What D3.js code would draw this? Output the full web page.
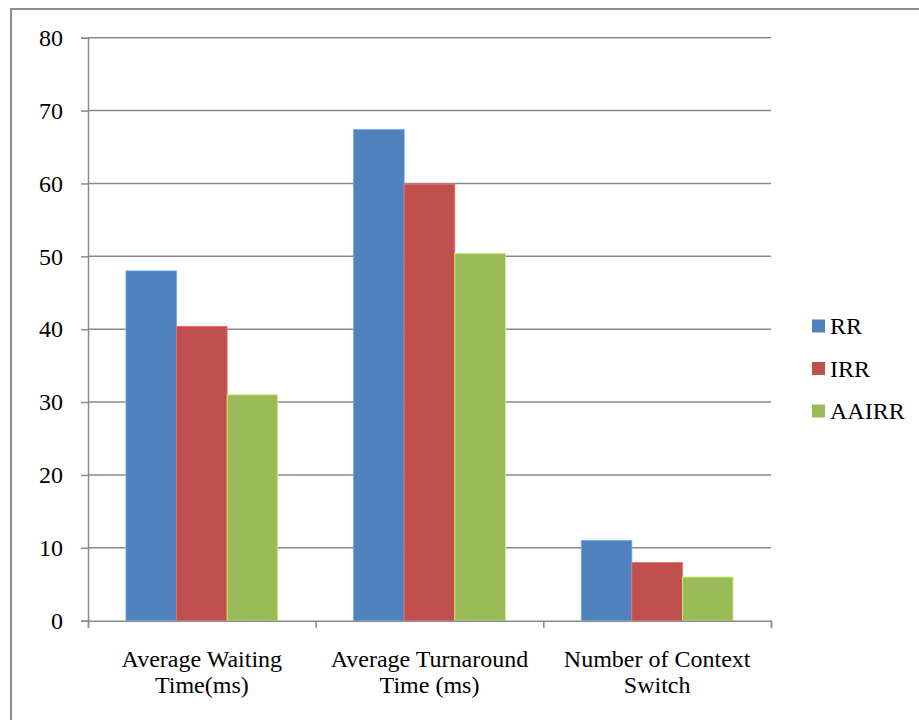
<!DOCTYPE html>
<html><head><meta charset="utf-8">
<script src="https://cdn.jsdelivr.net/npm/d3@7"></script>
<style>body{margin:0;background:#fff;} svg{display:block;} svg text{font-family:"Liberation Serif" !important;}</style>
</head><body>
<svg id="c" width="919" height="720" font-family="Liberation Serif"></svg>
<script>
const categories = [["Average Waiting","Time(ms)"],["Average Turnaround","Time (ms)"],["Number of Context","Switch"]];
const seriesNames = ["RR","IRR","AAIRR"];
const rrValues = [48, 67.4, 11];
const irrValues = [40.4, 59.9, 8];
const aairrValues = [31, 50.4, 6];
const yTicks = [0,10,20,30,40,50,60,70,80];
const colors = ["#4F81BD","#C0504D","#9BBB59"];
const series = [rrValues, irrValues, aairrValues];

const svg = d3.select("#c");
const font = "Liberation Serif";
const fs = 24;
const L = 88, R = 771, T = 37.7, B = 620.7;

// outer border
svg.append("rect").attr("x",11).attr("y",9).attr("width",940).attr("height",760)
  .attr("fill","none").attr("stroke","#8c8c8c").attr("stroke-width",2);

const y = d3.scaleLinear().domain([0,80]).range([B,T]);
const x0 = d3.scaleBand().domain(d3.range(categories.length)).range([L,R]).paddingInner(0).paddingOuter(0);
// gap width 150%
const x1 = d3.scaleBand().domain(d3.range(seriesNames.length)).range([0,x0.bandwidth()]).paddingInner(0).paddingOuter(0.75);

// gridlines
svg.append("g").selectAll("line").data(yTicks.filter(d=>d>0)).join("line")
  .attr("x1",L).attr("x2",R).attr("y1",d=>y(d)).attr("y2",d=>y(d))
  .attr("stroke","#8a8a8a").attr("stroke-width",1.5);

// y axis
const yAxis = d3.axisLeft(y).tickValues(yTicks).tickSize(7).tickPadding(18).tickFormat(d3.format("d"));
const gy = svg.append("g").attr("transform",`translate(${L},0)`).call(yAxis);
gy.attr("font-family",font).attr("font-size",fs);
gy.select(".domain").attr("stroke","#8a8a8a").attr("stroke-width",1.5);
gy.selectAll(".tick line").attr("stroke","#8a8a8a").attr("stroke-width",1.5);
gy.selectAll(".tick text").attr("font-family",font).attr("font-size",fs).attr("fill","#000");

// bars
const g = svg.append("g");
categories.forEach((c,i)=>{
  series.forEach((s,j)=>{
    g.append("rect")
      .attr("x", x0(i)+x1(j)).attr("width", x1.bandwidth())
      .attr("y", y(s[i])).attr("height", B - y(s[i]))
      .attr("fill", colors[j])
      .attr("stroke", d3.color(colors[j]).brighter(0.8)).attr("stroke-width",0.8);
  });
});

// x axis
const xAxis = d3.axisBottom(d3.scaleLinear().domain([0,3]).range([L,R])).tickValues([0,1,2,3]).tickSize(7).tickFormat("");
const gx = svg.append("g").attr("transform",`translate(0,${B})`).call(xAxis);
gx.select(".domain").attr("stroke","#8a8a8a").attr("stroke-width",1.5);
gx.selectAll(".tick line").attr("stroke","#8a8a8a").attr("stroke-width",1.5);

// category labels
categories.forEach((c,i)=>{
  const cx = x0(i)+x0.bandwidth()/2;
  c.forEach((line,k)=>{
    svg.append("text").attr("x",cx).attr("y",667+k*26).attr("text-anchor","middle")
      .attr("font-family",font).attr("font-size",fs).attr("fill","#000").text(line);
  });
});

// legend
seriesNames.forEach((n,j)=>{
  const cy = 326 + j*42.5;
  svg.append("rect").attr("x",812).attr("y",cy-6.5).attr("width",13).attr("height",13).attr("fill",colors[j]);
  svg.append("text").attr("x",830).attr("y",cy+8).attr("font-family",font).attr("font-size",fs)
    .attr("fill","#000").text(n);
});
</script>
</body></html>
